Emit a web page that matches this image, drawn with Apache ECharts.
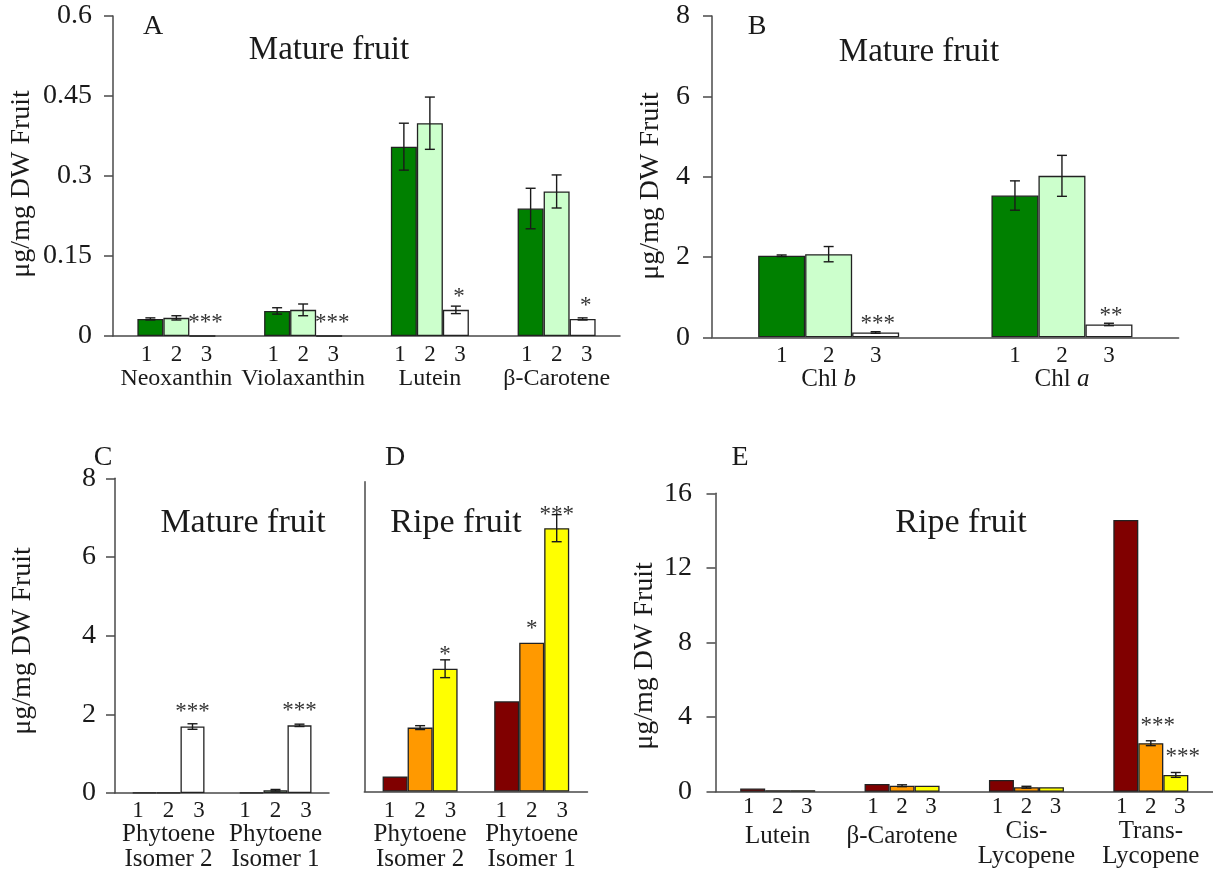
<!DOCTYPE html>
<html>
<head>
<meta charset="utf-8">
<script src="https://cdn.jsdelivr.net/npm/echarts@6/dist/echarts.min.js"></script>
<style>
html,body{margin:0;padding:0;background:#fff;}
#chart{width:1213px;height:872px;}
</style>
</head>
<body>
<div id="chart"></div>
<script>
// ---------- DATA ----------
// Panel A: mature fruit xanthophylls / carotene (µg/mg DW)
const catsA = ['Neoxanthin', 'Violaxanthin', 'Lutein', 'β-Carotene'];
const a1 = [0.032, 0.047, 0.355, 0.239];
const a1Err = [0.002, 0.006, 0.044, 0.038];
const a2 = [0.034, 0.049, 0.399, 0.271];
const a2Err = [0.004, 0.011, 0.049, 0.031];
const a3 = [0, 0, 0.049, 0.032];
const a3Err = [0, 0, 0.007, 0.002];
const a3Sig = ['***', '***', '*', '*'];
const ticksA = [0, 0.15, 0.3, 0.45, 0.6];

// Panel B: chlorophylls
const catsB = ['Chl b', 'Chl a'];
const b1 = [2.03, 3.53];
const b1Err = [0.02, 0.365];
const b2 = [2.07, 4.02];
const b2Err = [0.19, 0.51];
const b3 = [0.12, 0.32];
const b3Err = [0.02, 0.03];
const b3Sig = ['***', '**'];
const ticksB = [0, 2, 4, 6, 8];

// Panel C: phytoene, mature fruit
const catsC = ['Phytoene\nIsomer 2', 'Phytoene\nIsomer 1'];
const c1 = [0.01, 0.01];
const c1Err = [0, 0];
const c2 = [0.01, 0.07];
const c2Err = [0, 0.02];
const c3 = [1.69, 1.72];
const c3Err = [0.07, 0.03];
const c3Sig = ['***', '***'];
const ticksC = [0, 2, 4, 6, 8];

// Panel D: phytoene, ripe fruit
const catsD = ['Phytoene\nIsomer 2', 'Phytoene\nIsomer 1'];
const d1 = [0.39, 2.33];
const d1Err = [0, 0];
const d2 = [1.65, 3.84];
const d2Err = [0.05, 0];
const d2Sig = ['', '*'];
const d3 = [3.17, 6.80];
const d3Err = [0.23, 0.35];
const d3Sig = ['*', '***'];

// Panel E: ripe fruit carotenoids
const catsE = ['Lutein', 'β-Carotene', 'Cis-\nLycopene', 'Trans-\nLycopene'];
const e1 = [0.17, 0.41, 0.63, 14.57];
const e1Err = [0, 0, 0, 0];
const e2 = [0.08, 0.32, 0.24, 2.6];
const e2Err = [0, 0.05, 0.05, 0.13];
const e2Sig = ['', '', '', '***'];
const e3 = [0.08, 0.32, 0.24, 0.9];
const e3Err = [0, 0, 0, 0.13];
const e3Sig = ['', '', '', '***'];
const ticksE = [0, 4, 8, 12, 16];

const barNums = ['1', '2', '3'];
const yTitle = 'μg/mg DW Fruit';

// ---------- STYLE ----------
const FONT = '"Liberation Serif", "Times New Roman", serif';
const TXT = '#1a1a1a';
const AXIS = '#4a4a4a';
const GREEN = ['#008000', '#CCFFCC', '#FFFFFF'];
const RIPE = ['#800000', '#FF9900', '#FFFF00'];

const panels = [
  { grid: {left: 113, top: 16, width: 507, height: 320}, cats: catsA, ticks: ticksA, showY: true,
    barW: 26, digitW: 30, nameSize: 24, colors: GREEN, vals: [a1, a2, a3], errs: [a1Err, a2Err, a3Err], sigs: [null, null, a3Sig],
    xMargin: 7, yMargin: 21, sigDist: 1, sigOffset: [3, 0], italicLast: false },
  { grid: {left: 712, top: 16, width: 466.6, height: 321.3}, cats: catsB, ticks: ticksB, showY: true,
    barW: 47, digitW: 47, nameSize: 25, colors: GREEN, vals: [b1, b2, b3], errs: [b1Err, b2Err, b3Err], sigs: [null, null, b3Sig],
    xMargin: 7, yMargin: 22, sigDist: -3, sigOffset: [2, 0], italicLast: true },
  { grid: {left: 115, top: 478.3, width: 214, height: 315.7}, cats: catsC, ticks: ticksC, showY: true,
    barW: 24, digitW: 30.5, nameSize: 25, colors: GREEN, vals: [c1, c2, c3], errs: [c1Err, c2Err, c3Err], sigs: [null, null, c3Sig],
    xMargin: 6, yMargin: 19, sigDist: 3, sigOffset: [0, 0], italicLast: false },
  { grid: {left: 364.3, top: 481.7, width: 223.2, height: 310.6}, cats: catsD, ticks: ticksC, showY: false,
    barW: 25, digitW: 30.5, nameSize: 25, colors: RIPE, vals: [d1, d2, d3], errs: [d1Err, d2Err, d3Err], sigs: [null, d2Sig, d3Sig],
    xMargin: 7.5, yMargin: 19, sigDist: 2, sigOffset: [0, 0], italicLast: false },
  { grid: {left: 715.5, top: 493.3, width: 497.5, height: 298.4}, cats: catsE, ticks: ticksE, showY: true,
    barW: 25, digitW: 29, nameSize: 25, colors: RIPE, vals: [e1, e2, e3], errs: [e1Err, e2Err, e3Err], sigs: [null, e2Sig, e3Sig],
    xMargin: 4, yMargin: 23.5, sigDist: 6, sigOffset: [7, 0], italicLast: false, singleTall: true }
];

const grids = [], xAxes = [], yAxes = [], series = [];

function errRenderer(slot, bw) {
  return function (params, api) {
    const i = api.value(0), v = api.value(1), e = api.value(2);
    if (!(e > 0)) return null;
    const c = api.coord([i, v]);
    const x = c[0] + (slot - 1) * bw;
    const yt = api.coord([i, v + e])[1];
    const yb = api.coord([i, Math.max(v - e, 0)])[1];
    const cap = 5;
    const st = {stroke: '#1a1a1a', lineWidth: 1.4};
    return {
      type: 'group',
      children: [
        {type: 'line', shape: {x1: x, y1: yt, x2: x, y2: yb}, style: st},
        {type: 'line', shape: {x1: x - cap, y1: yt, x2: x + cap, y2: yt}, style: st},
        {type: 'line', shape: {x1: x - cap, y1: yb, x2: x + cap, y2: yb}, style: st}
      ]
    };
  };
}

panels.forEach(function (p, k) {
  grids.push(Object.assign({containLabel: false}, p.grid));
  const digits = barNums.map(function (n) { return '{d|' + n + '}'; }).join('');
  xAxes.push({
    type: 'category', gridIndex: k, data: p.cats,
    axisLine: {show: true, lineStyle: {color: AXIS, width: 1.5}},
    axisTick: {show: false},
    splitLine: {show: false},
    axisLabel: {
      interval: 0, margin: p.xMargin, color: TXT, fontFamily: FONT,
      formatter: function (val) {
        const lines = val.split('\n');
        let nameTxt;
        if (p.italicLast) {
          const base = val.slice(0, val.length - 1), last = val.slice(val.length - 1);
          nameTxt = '{n|' + base + '}{ni|' + last + '}';
        } else if (lines.length === 1 && p.singleTall) {
          nameTxt = '{n1|' + val + '}';
        } else {
          nameTxt = lines.map(function (l) { return '{n|' + l + '}'; }).join('\n');
        }
        return digits + '\n' + nameTxt;
      },
      rich: {
        d: {fontSize: 23, lineHeight: 23, width: p.digitW, align: 'center', fontFamily: FONT, color: TXT},
        n: {fontSize: p.nameSize, lineHeight: 25, fontFamily: FONT, color: TXT},
        n1: {fontSize: p.nameSize, lineHeight: 36, fontFamily: FONT, color: TXT},
        ni: {fontSize: p.nameSize, lineHeight: 25, fontFamily: FONT, fontStyle: 'italic', color: TXT}
      }
    }
  });
  const tk = p.ticks;
  yAxes.push({
    type: 'value', gridIndex: k, min: tk[0], max: tk[tk.length - 1], interval: tk[1] - tk[0],
    axisLine: {show: true, lineStyle: {color: AXIS, width: 1.5}},
    axisTick: {show: p.showY, inside: false, length: 9, lineStyle: {color: AXIS, width: 1.5}},
    splitLine: {show: false},
    axisLabel: {show: p.showY, margin: p.yMargin, fontSize: 28, fontFamily: FONT, color: TXT}
  });
  p.vals.forEach(function (vals, s) {
    const sig = p.sigs[s];
    series.push({
      type: 'bar', xAxisIndex: k, yAxisIndex: k, data: vals,
      barWidth: p.barW, barGap: '0%',
      itemStyle: {color: p.colors[s], borderColor: '#222', borderWidth: 1.3},
      label: sig ? {
        show: true, position: 'top', distance: p.sigDist, offset: p.sigOffset,
        fontSize: 23, fontFamily: FONT, color: '#333',
        formatter: function (prm) { return sig[prm.dataIndex]; }
      } : {show: false},
      emphasis: {disabled: true},
      animation: false
    });
  });
  p.vals.forEach(function (vals, s) {
    const errs = p.errs[s];
    series.push({
      type: 'custom', xAxisIndex: k, yAxisIndex: k, z: 10,
      data: vals.map(function (v, i) { return [i, v, errs[i]]; }),
      renderItem: errRenderer(s, p.barW),
      silent: true, animation: false
    });
  });
});

// ---------- TEXT (panel letters, titles, axis titles) ----------
function txt(text, x, y, size, rot) {
  return {
    type: 'text', x: x, y: y, rotation: rot || 0, silent: true,
    style: {text: text, fontSize: size, fontFamily: FONT, fill: TXT, textAlign: 'center', textVerticalAlign: 'middle'}
  };
}
const graphics = [
  txt('A', 153, 27, 28), txt('Mature fruit', 329, 50, 33),
  txt('B', 757, 27, 28), txt('Mature fruit', 919, 52, 33),
  txt('C', 103, 458, 28), txt('Mature fruit', 243, 523, 34),
  txt('D', 395, 458, 28), txt('Ripe fruit', 456, 523, 34),
  txt('E', 740, 458, 28), txt('Ripe fruit', 961, 523, 34),
  txt(yTitle, 22, 184, 28, Math.PI / 2),
  txt(yTitle, 651, 186, 28, Math.PI / 2),
  txt(yTitle, 23, 641, 28, Math.PI / 2),
  txt(yTitle, 645, 656, 28, Math.PI / 2)
];

const chart = echarts.init(document.getElementById('chart'), null, {renderer: 'canvas'});
chart.setOption({
  animation: false,
  backgroundColor: '#ffffff',
  grid: grids,
  xAxis: xAxes,
  yAxis: yAxes,
  series: series,
  graphic: graphics
});
</script>
</body>
</html>
